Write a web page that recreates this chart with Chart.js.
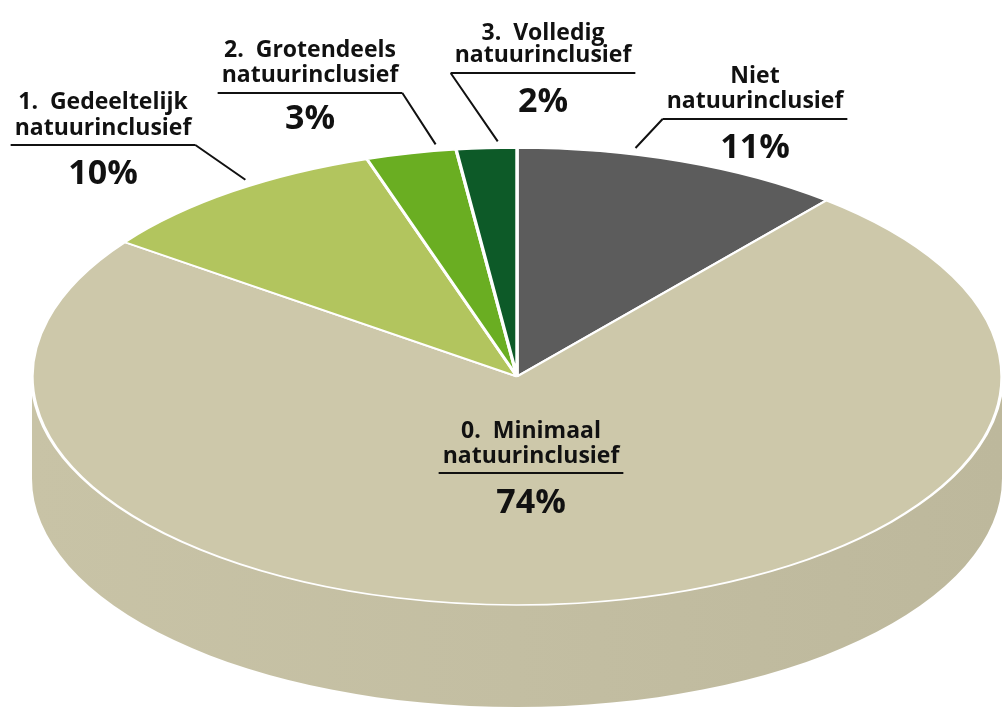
<!DOCTYPE html>
<html>
<head>
<meta charset="utf-8">
<script src="https://cdn.jsdelivr.net/npm/chart.js@4.4.1/dist/chart.umd.min.js"></script>
<style>
  html, body { margin: 0; padding: 0; background: #fff; }
  #wrap { width: 1002px; height: 717px; position: relative; }
</style>
</head>
<body>
<div id="wrap"><canvas id="pie"></canvas></div>
<script>
// data
const categories = [
  ['Niet', 'natuurinclusief'],
  ['0.  Minimaal', 'natuurinclusief'],
  ['1.  Gedeeltelijk', 'natuurinclusief'],
  ['2.  Grotendeels', 'natuurinclusief'],
  ['3.  Volledig', 'natuurinclusief']
];
const shares = [11, 74, 10, 3, 2];
const sliceColors = ['#5c5c5c', '#cdc8aa', '#b2c55e', '#6aae22', '#0d5a28'];

// label layout (x = text centre, y = first baseline)
const labelPos = [
  { x: 755, y: 83, gap: 25, line: 119, pct: 158, leader: 'left', f: 0.35 },
  { x: 531, y: 438, gap: 25, line: 473, pct: 513, leader: null },
  { x: 103, y: 109, gap: 26, line: 145, pct: 184, leader: 'right', f: 0.575 },
  { x: 310, y: 57, gap: 25, line: 93, pct: 129, leader: 'right', f: 0.79 },
  { x: 543, y: 40, gap: 22, line: 73, pct: 112, leader: 'left', f: 0.69 }
];

// tilt of the pie: screen radii and side depth
const RX = 485, RY = 228.5, DEPTH = 102;

function shade(hex, k) {
  const n = parseInt(hex.slice(1), 16);
  const r = Math.round(((n >> 16) & 255) * k);
  const g = Math.round(((n >> 8) & 255) * k);
  const b = Math.round((n & 255) * k);
  return `rgb(${r},${g},${b})`;
}

const pie3d = {
  id: 'pie3d',
  beforeDatasetsDraw(chart) {
    const ctx = chart.ctx;
    const arcs = chart.getDatasetMeta(0).data;
    const { x, y } = arcs[0];

    // side wall, front half only
    arcs.forEach((arc, i) => {
      const s = Math.max(arc.startAngle, 0);
      const e = Math.min(arc.endAngle, Math.PI);
      if (e <= s) return;
      const col = sliceColors[i];
      const grad = ctx.createLinearGradient(x - RX, 0, x + RX, 0);
      grad.addColorStop(0, shade(col, 0.975));
      grad.addColorStop(0.5, shade(col, 0.95));
      grad.addColorStop(1, shade(col, 0.92));
      ctx.save();
      ctx.beginPath();
      ctx.ellipse(x, y, RX, RY, 0, s, e, false);
      ctx.ellipse(x, y + DEPTH, RX, RY, 0, e, s, true);
      ctx.closePath();
      ctx.fillStyle = grad;
      ctx.fill();
      ctx.restore();
    });

    // squash the top face into an ellipse
    const r = arcs[0].outerRadius;
    ctx.save();
    ctx.translate(x, y);
    ctx.scale(RX / r, RY / r);
    ctx.translate(-x, -y);
  },
  afterDatasetsDraw(chart) {
    const ctx = chart.ctx;
    ctx.restore();

    const arcs = chart.getDatasetMeta(0).data;
    ctx.save();
    ctx.fillStyle = '#111';
    ctx.strokeStyle = '#111';
    ctx.lineWidth = 2;
    ctx.textAlign = 'center';
    ctx.textBaseline = 'alphabetic';

    categories.forEach((lines, i) => {
      const p = labelPos[i];
      ctx.font = '700 23px "Open Sans", "DejaVu Sans", sans-serif';
      let w = 0;
      lines.forEach((t, k) => {
        ctx.fillText(t, p.x, p.y + k * p.gap);
        w = Math.max(w, ctx.measureText(t).width);
      });
      const x0 = p.x - w / 2 - 4, x1 = p.x + w / 2 + 4;
      ctx.beginPath();
      ctx.moveTo(x0, p.line);
      ctx.lineTo(x1, p.line);
      if (p.leader) {
        const arc = arcs[i];
        const a = arc.startAngle + p.f * (arc.endAngle - arc.startAngle);
        const ex = arc.x + RX * 1.02 * Math.cos(a);
        const ey = arc.y + RY * 1.03 * Math.sin(a);
        const sx = p.leader === 'left' ? x0 : x1;
        ctx.moveTo(sx, p.line);
        ctx.lineTo(ex, ey);
      }
      ctx.stroke();

      ctx.font = '700 34px "Open Sans", "DejaVu Sans", sans-serif';
      ctx.fillText(shares[i] + '%', p.x, p.pct);
    });
    ctx.restore();
  }
};

new Chart(document.getElementById('pie').getContext('2d'), {
  type: 'pie',
  data: {
    labels: categories.map(l => l.join(' ')),
    datasets: [{
      data: shares,
      backgroundColor: sliceColors,
      borderColor: '#ffffff',
      borderWidth: 2.4,
      hoverOffset: 0,
      clip: false
    }]
  },
  options: {
    responsive: true,
    maintainAspectRatio: false,
    animation: false,
    events: [],
    layout: { padding: { left: 32, right: 0, top: 36, bottom: 0 } },
    plugins: {
      legend: { display: false },
      tooltip: { enabled: false }
    }
  },
  plugins: [pie3d]
});
</script>
</body>
</html>
